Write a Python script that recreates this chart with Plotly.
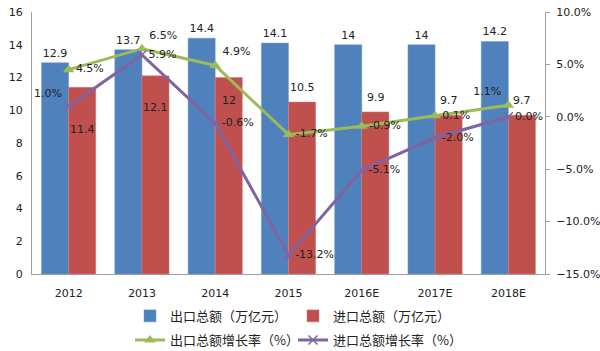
import plotly.graph_objects as go

years = ["2012", "2013", "2014", "2015", "2016E", "2017E", "2018E"]
export_total = [12.9, 13.7, 14.4, 14.1, 14, 14, 14.2]
import_total = [11.4, 12.1, 12, 10.5, 9.9, 9.7, 9.7]
export_growth = [4.5, 6.5, 4.9, -1.7, -0.9, 0.1, 1.1]
import_growth = [1.0, 5.9, -0.6, -13.2, -5.1, -2.0, 0.0]

export_growth_pos = ["middle right", "top right", "top right", "middle right",
                     "middle right", "middle right", "top left"]
import_growth_pos = ["top left", "middle right", "middle right", "middle right",
                     "middle right", "middle right", "middle right"]
# vertical shifts (px) for import bar labels (manually moved in the original)
import_label_shift = [-42, -32, -23, 6, 6, 6, 6]

FONT = "DejaVu Sans, Noto Sans CJK SC, sans-serif"
CJK = "Noto Sans CJK SC, DejaVu Sans, sans-serif"
TXT = "#222222"

xs = list(range(len(years)))

fig = go.Figure()
fig.add_trace(go.Bar(
    x=xs, y=export_total, name="出口总额（万亿元）", legend="legend",
    marker=dict(color="#4F81BD", line=dict(color="#6F9BD1", width=0.5)),
    text=[f"{v:g}" for v in export_total], textposition="outside",
    textfont=dict(size=11, color=TXT, family=FONT), cliponaxis=False,
))
fig.add_trace(go.Bar(
    x=xs, y=import_total, name="进口总额（万亿元）", legend="legend",
    marker=dict(color="#C0504D", line=dict(color="#D67A78", width=0.5)),
))
fig.add_trace(go.Scatter(
    x=xs, y=export_growth, name="出口总额增长率（%）", yaxis="y2", legend="legend2",
    mode="lines+markers+text",
    line=dict(color="#9BBB59", width=3),
    marker=dict(symbol="triangle-up", size=10, color="#9BBB59"),
    text=[f"{v:.1f}%" for v in export_growth], textposition=export_growth_pos,
    textfont=dict(size=11, color=TXT, family=FONT), cliponaxis=False,
))
fig.add_trace(go.Scatter(
    x=xs, y=import_growth, name="进口总额增长率（%）", yaxis="y2", legend="legend2",
    mode="lines+markers+text",
    line=dict(color="#8064A2", width=3),
    marker=dict(symbol="x-thin", size=9, color="#8064A2",
                line=dict(color="#8064A2", width=1.5)),
    text=[f"{v:.1f}%" for v in import_growth], textposition=import_growth_pos,
    textfont=dict(size=11, color=TXT, family=FONT), cliponaxis=False,
))

for i, v in enumerate(import_total):
    fig.add_annotation(
        x=xs[i], y=v, text=f"{v:g}", showarrow=False, xshift=14,
        yshift=import_label_shift[i],
        yanchor="bottom" if import_label_shift[i] > 0 else "middle",
        font=dict(size=11, color=TXT, family=FONT),
    )

legend_style = dict(
    orientation="h", x=0.191, xanchor="left", yanchor="middle",
    entrywidth=118, font=dict(size=13, family=CJK, color=TXT),
    traceorder="normal", bgcolor="rgba(0,0,0,0)",
)

fig.update_layout(
    width=600, height=351,
    margin=dict(l=32, r=55, t=12, b=77, autoexpand=False),
    paper_bgcolor="white", plot_bgcolor="white",
    barmode="group", bargap=0.26, bargroupgap=0,
    font=dict(family=FONT, size=11, color=TXT),
    xaxis=dict(
        range=[-0.5, len(years) - 0.5],
        tickvals=xs, ticktext=years,
        showline=True, linecolor="#A0A0A0", linewidth=1,
        ticks="", ticklabelstandoff=9,
        tickfont=dict(size=11, color=TXT, family="DejaVu Sans"),
        showgrid=False, zeroline=False,
    ),
    yaxis=dict(
        range=[0, 16], dtick=2, showline=True, linecolor="#A0A0A0",
        showgrid=False, zeroline=False, ticks="", ticklabelstandoff=6,
        tickfont=dict(size=11, color=TXT),
    ),
    yaxis2=dict(
        overlaying="y", side="right", range=[-15, 10], dtick=5,
        tickformat=".1f", ticksuffix="%",
        showline=True, linecolor="#A0A0A0", ticks="outside", ticklen=4,
        tickcolor="#A0A0A0", showgrid=False, zeroline=False,
        ticklabelstandoff=4,
        tickfont=dict(size=11, color=TXT),
    ),
    legend=dict(legend_style, y=-0.160),
    legend2=dict(legend_style, y=-0.252),
    showlegend=True,
)

fig.write_html("out.html")
